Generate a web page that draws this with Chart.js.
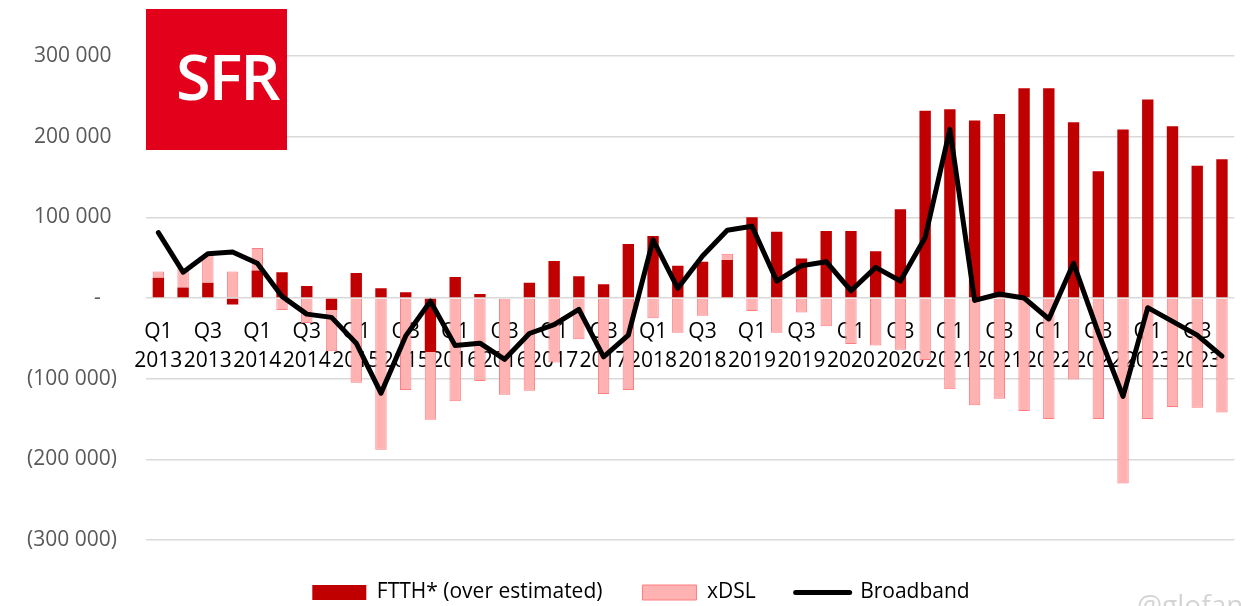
<!DOCTYPE html>
<html>
<head>
<meta charset="utf-8">
<script src="https://cdn.jsdelivr.net/npm/chart.js@4.4.1/dist/chart.umd.min.js"></script>
<style>
  html, body { margin: 0; padding: 0; background: #fff; overflow: hidden; }
  #wrap { position: relative; width: 1241px; height: 606px; overflow: hidden; }
  #logo {
    position: absolute; left: 146px; top: 9px; width: 141px; height: 141px;
    background: #E2001A; z-index: 2;
  }
  #logo span {
    position: absolute; left: 30px; top: 35px;
    font-family: 'Open Sans', sans-serif; font-size: 63px; line-height: 63px;
    font-weight: 600; color: #fff; letter-spacing: -2px;
  }
  #mark {
    position: absolute; left: 1137px; top: 590px; z-index: 2;
    font-family: 'Open Sans', sans-serif; font-size: 28px; line-height: 28px;
    color: #D4D4D4; white-space: nowrap;
  }
</style>
</head>
<body>
<div id="wrap">
  <canvas id="myChart" width="1241" height="606"></canvas>
  <div id="logo"><span>SFR</span></div>
  <div id="mark">@glofan</div>
</div>
<script>
const categories = [
    "Q1 2013", "Q2 2013", "Q3 2013", "Q4 2013",
    "Q1 2014", "Q2 2014", "Q3 2014", "Q4 2014",
    "Q1 2015", "Q2 2015", "Q3 2015", "Q4 2015",
    "Q1 2016", "Q2 2016", "Q3 2016", "Q4 2016",
    "Q1 2017", "Q2 2017", "Q3 2017", "Q4 2017",
    "Q1 2018", "Q2 2018", "Q3 2018", "Q4 2018",
    "Q1 2019", "Q2 2019", "Q3 2019", "Q4 2019",
    "Q1 2020", "Q2 2020", "Q3 2020", "Q4 2020",
    "Q1 2021", "Q2 2021", "Q3 2021", "Q4 2021",
    "Q1 2022", "Q2 2022", "Q3 2022", "Q4 2022",
    "Q1 2023", "Q2 2023", "Q3 2023", "Q4 2023",
];

// net adds per quarter
const ftth = [
    25000, 13000, 19000, -8000, 34000, 32000, 15000, -15000,
    31000, 12000, 7000, -67000, 26000, 5000, 1000, 19000,
    46000, 27000, 17000, 67000, 77000, 40000, 45000, 47000,
    100000, 82000, 49000, 83000, 83000, 58000, 110000, 232000,
    234000, 220000, 228000, 260000, 260000, 218000, 157000, 209000,
    246000, 213000, 164000, 172000,
];
const xdsl = [
    8000, 24000, 34000, 33000, 28000, -15000, -31000, -51000,
    -105000, -188000, -114000, -84000, -128000, -103000, -120000, -115000,
    -80000, -51000, -119000, -114000, -25000, -43000, -22000, 8000,
    -16000, -43000, -18000, -35000, -57000, -59000, -64000, -77000,
    -113000, -133000, -125000, -140000, -150000, -101000, -150000, -230000,
    -150000, -135000, -136000, -142000,
];
const broadband = [
    81000, 32000, 55000, 57000, 43000, 2000, -20000, -24000,
    -56000, -118000, -47000, -4000, -59000, -56000, -76000, -44000,
    -33000, -14000, -73000, -46000, 72000, 12000, 52000, 84000,
    89000, 21000, 40000, 45000, 9000, 38000, 21000, 75000,
    209000, -3000, 5000, 0, -26000, 43000, -43000, -122000,
    -12000, -29000, -46000, -72000,
];
const yTicks = [-300000, -200000, -100000, 0, 100000, 200000, 300000];

Chart.defaults.font.family = "'Open Sans', sans-serif";

function fmt(v) {
    return Math.abs(v).toString().replace(/\B(?=(\d{3})+(?!\d))/g, " ");
}
function yLabel(v) {
    if (v === 0) return "-\u00a0\u00a0\u00a0";
    if (v < 0) return "(" + fmt(v) + ")";
    return fmt(v) + "\u00a0";
}

// the legend in the original sits a little right of the page centre
const legendShift = {
    id: "legendShift",
    afterLayout(chart) {
        chart.legend.left += 22;
        chart.legend.right += 22;
        chart.legend.top += 2;
        chart.legend.bottom += 2;
    },
};

const ctx = document.getElementById("myChart").getContext("2d");
const myChart = new Chart(ctx, {
    type: "bar",
    data: {
        labels: categories,
        datasets: [
            {
                label: "FTTH* (over estimated)",
                data: ftth,
                backgroundColor: "#C00000",
                borderWidth: 0,
                barPercentage: 0.46,
                categoryPercentage: 1,
                order: 1,
            },
            {
                label: "xDSL",
                data: xdsl,
                backgroundColor: "#FFB2B2",
                borderColor: "#FF7C80",
                borderWidth: 1,
                barPercentage: 0.46,
                categoryPercentage: 1,
                order: 1,
            },
            {
                type: "line",
                label: "Broadband",
                data: broadband,
                borderColor: "#000",
                backgroundColor: "#000",
                borderWidth: 5,
                borderJoinStyle: "round",
                borderCapStyle: "round",
                pointRadius: 0,
                pointHoverRadius: 0,
                pointBorderWidth: 5,
                tension: 0,
                stack: "bb",
                order: 0,
            },
        ],
    },
    options: {
        responsive: false,
        animation: false,
        devicePixelRatio: 1,
        layout: {
            padding: { left: 0, right: 3, top: 56, bottom: -5 },
        },
        plugins: {
            tooltip: { enabled: false },
            legend: {
                position: "bottom",
                labels: {
                    usePointStyle: true,
                    pointStyleWidth: 54,
                    boxHeight: 15,
                    padding: 40,
                    color: "#000",
                    font: { size: 21 },
                    sort: (a, b) => a.datasetIndex - b.datasetIndex,
                    generateLabels: (chart) => {
                        const items = Chart.defaults.plugins.legend.labels.generateLabels(chart);
                        items.forEach((it) => {
                            if (it.datasetIndex === 2) {
                                it.pointStyle = "line";
                                it.lineWidth = 5;
                                it.lineCap = "round";
                                it.strokeStyle = "#000";
                            } else {
                                it.pointStyle = "rect";
                            }
                        });
                        return items;
                    },
                },
            },
        },
        scales: {
            x: {
                stacked: true,
                position: { y: 0 },
                grid: { display: false, drawTicks: false },
                border: { display: false },
                ticks: {
                    autoSkip: false,
                    maxRotation: 0,
                    minRotation: 0,
                    padding: 19,
                    color: "#000",
                    font: { size: 21, lineHeight: 1.4 },
                    callback: (v, i) => (i % 2 === 0 ? categories[i].split(" ") : ""),
                },
            },
            y: {
                stacked: true,
                min: yTicks[0],
                max: yTicks[yTicks.length - 1],
                afterFit: (s) => { s.width = 146; },
                grid: { color: "#D9D9D9", lineWidth: 1.5, drawTicks: false },
                border: { display: false },
                ticks: {
                    stepSize: 100000,
                    padding: 29,
                    color: "#595959",
                    font: { size: 21 },
                    callback: (v) => yLabel(v),
                },
            },
        },
    },
    plugins: [legendShift],
});
</script>
</body>
</html>
